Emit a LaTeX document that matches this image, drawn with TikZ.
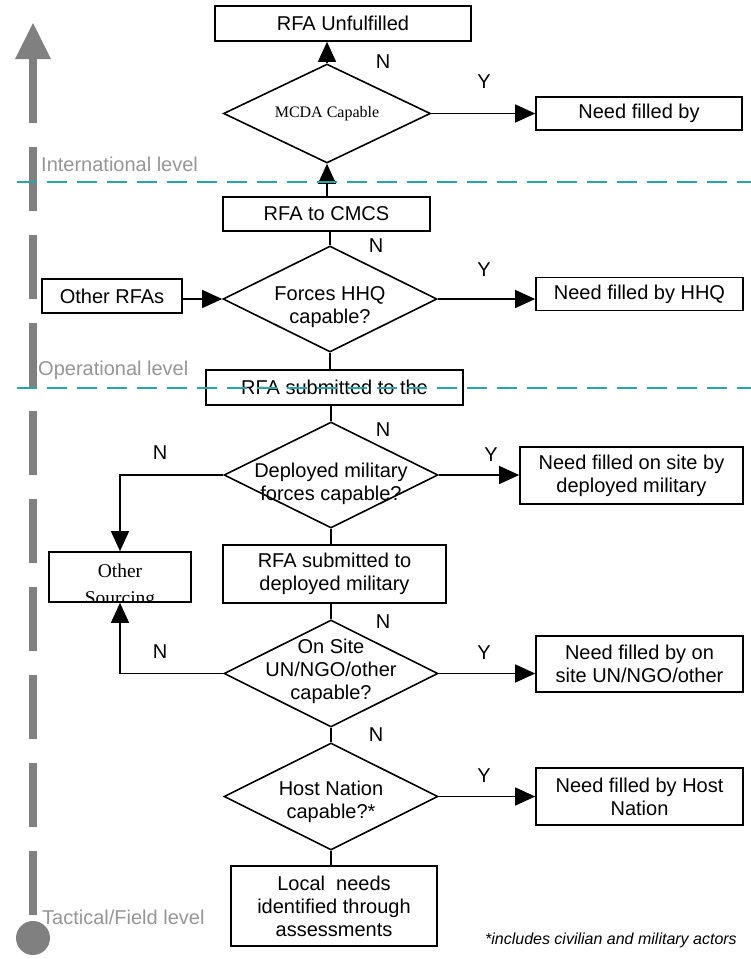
\documentclass[tikz,border=0pt]{standalone}
\usepackage{fontspec}
\setmainfont{Liberation Sans}
\newfontfamily\serifface{Liberation Serif}
\usetikzlibrary{shapes.geometric,arrows.meta}
\definecolor{tealline}{RGB}{40,165,165}
\definecolor{bargray}{RGB}{128,128,128}
\definecolor{lvlgray}{RGB}{150,150,150}
\begin{document}
\begin{tikzpicture}[x=1pt,y=-1pt,
  box/.style={draw,line width=1.6pt,rectangle,inner sep=0pt,font=\fontsize{20}{23}\selectfont,align=center},
  dia/.style={draw,line width=1.6pt,diamond,inner sep=0pt,minimum width=214pt,minimum height=106pt},
  txt/.style={font=\fontsize{20}{23}\selectfont,align=center,inner sep=0pt},
  lab/.style={font=\fontsize{20}{23}\selectfont,inner sep=0pt},
  conn/.style={line width=1.3pt},
  arr/.style={conn,-{Triangle[length=20pt,width=18pt]}},
  lvl/.style={font=\fontsize{20}{23}\selectfont,text=lvlgray,anchor=west,inner sep=0pt},
  srcfont/.style={font=\serifface\fontsize{19.5}{22}\selectfont,inner sep=0pt,anchor=base},
  sepline/.style={tealline,line width=2.3pt,dash pattern=on 20pt off 10pt}
  ]
\useasboundingbox (0,0) rectangle (751,959);
\fill[white] (0,0) rectangle (751,959);

% level texts
\node[lvl] (intl) at (41,164) {International level};
\node[lvl] (oper) at (38,370) {Operational level};
\node[lvl] (tact) at (42,917) {Tactical/Field level};

% gray level bar
\coordinate (bartip) at (33,23);
\coordinate (bartop) at (33,59);
\coordinate (barbot) at (33,938);
\draw[bargray,line width=8pt,dash pattern=on 64pt off 24pt] (bartop) -- (barbot);
\fill[bargray] (bartip) -- ([xshift=-18pt]bartop) -- ([xshift=18pt]bartop) -- cycle;
\fill[bargray] (barbot) circle[radius=17pt];

% nodes
\node[box,minimum width=256pt,minimum height=35pt] (unf) at (343,23.5) {RFA Unfulfilled};
\node[dia,minimum width=207pt,minimum height=99pt] (mcda) at (327,113.5) {};
\node[font=\serifface\fontsize{16}{18}\selectfont,inner sep=0pt] (mcdat) at (327,114) {MCDA Capable};
\node[box,minimum width=206pt,minimum height=33pt] (need1) at (639,113.5) {Need filled by};
\node[box,minimum width=207pt,minimum height=34pt] (cmcs) at (326.5,214) {RFA to CMCS};
\node[dia] (hhq) at (330,299) {};
\node[txt] (hhqt) at (330,307) {Forces HHQ\\capable?};
\node[box,minimum width=207pt,minimum height=33pt] (need2) at (639.5,294) {Need filled by HHQ};
\node[box,minimum width=140pt,minimum height=34pt] (other) at (112,296) {Other RFAs};
\node[box,minimum width=257pt,minimum height=35pt] (sub) at (334.5,387.5) {RFA submitted to the};
\node[dia] (dep) at (331,475) {};
\node[txt] (dept) at (331,484) {Deployed military\\forces capable?};
\node[box,minimum width=223pt,minimum height=57pt] (need3) at (631.5,475.5) {Need filled on site by\\deployed military};
\node[box,minimum width=142pt,minimum height=50pt] (src) at (120,577) {};
\begin{scope}
\clip ([xshift=1pt,yshift=1pt]src.south west) rectangle ([xshift=-1pt,yshift=-1pt]src.north east);
\node[srcfont] (srct1) at (120,577) {Other};
\node[srcfont] (srct2) at (120,604) {Sourcing};
\end{scope}
\node[box,minimum width=223pt,minimum height=58pt] (subdep) at (334.5,574) {RFA submitted to\\deployed military};
\node[dia,minimum height=107pt] (site) at (331,673.5) {};
\node[txt] (sitet) at (331,671) {On Site\\UN/NGO/other\\capable?};
\node[box,minimum width=207pt,minimum height=56pt] (need4) at (639.5,664) {Need filled by on\\site UN/NGO/other};
\node[dia,minimum height=107pt] (host) at (331,796.5) {};
\node[txt] (hostt) at (331,802) {Host Nation\\capable?*};
\node[box,minimum width=207pt,minimum height=57pt] (need5) at (639.5,796.5) {Need filled by Host\\Nation};
\node[box,minimum width=206pt,minimum height=80pt] (local) at (334,906) {Local\ \ needs\\identified through\\assessments};

% connectors
\draw[arr] (mcda.north) -- (mcda.north |- unf.south);
\draw[arr] (mcda.east) -- (mcda.east -| need1.west);
\draw[arr] (mcda.south |- cmcs.north) -- (mcda.south);
\draw[conn] (hhq.north |- cmcs.south) -- (hhq.north);
\draw[arr] (other.east |- hhq.west) -- (hhq.west);
\draw[arr] (hhq.east) -- (hhq.east -| need2.west);
\draw[conn] (hhq.south) -- (hhq.south |- sub.north);
\draw[conn] (dep.north |- sub.south) -- (dep.north);
\draw[arr] (dep.east) -- (dep.east -| need3.west);
\draw[arr] (dep.west) -| (src.north);
\draw[conn] (dep.south) -- (dep.south |- subdep.north);
\draw[conn] (site.north |- subdep.south) -- (site.north);
\draw[arr] (site.east) -- (site.east -| need4.west);
\draw[arr] (site.west) -| (src.south);
\draw[conn] (site.south) -- (host.north);
\draw[arr] (host.east) -- (host.east -| need5.west);
\draw[conn] (host.south) -- (host.south |- local.north);

% N / Y labels
\node[lab] (n1) at (383,62) {N};
\node[lab] (y1) at (484,82) {Y};
\node[lab] (n2) at (376,246) {N};
\node[lab] (y2) at (484,270) {Y};
\node[lab] (n3) at (383,430) {N};
\node[lab] (n4) at (160,453) {N};
\node[lab] (y3) at (491,455) {Y};
\node[lab] (n5) at (383,622) {N};
\node[lab] (n6) at (160,652) {N};
\node[lab] (y4) at (484,653) {Y};
\node[lab] (n7) at (376,735) {N};
\node[lab] (y5) at (484,776) {Y};

% level separators
\coordinate (sepAl) at (17,182);
\coordinate (sepAr) at (751,182);
\coordinate (sepBl) at (17,388);
\coordinate (sepBr) at (751,388);
\draw[sepline] (sepAl) -- (sepAr);
\draw[sepline] (sepBl) -- (sepBr);

% footnote
\node[font=\itshape\fontsize{16}{18}\selectfont,anchor=east,inner sep=0pt] (foot) at (737,940) {*includes civilian and military actors};
\end{tikzpicture}
\end{document}
